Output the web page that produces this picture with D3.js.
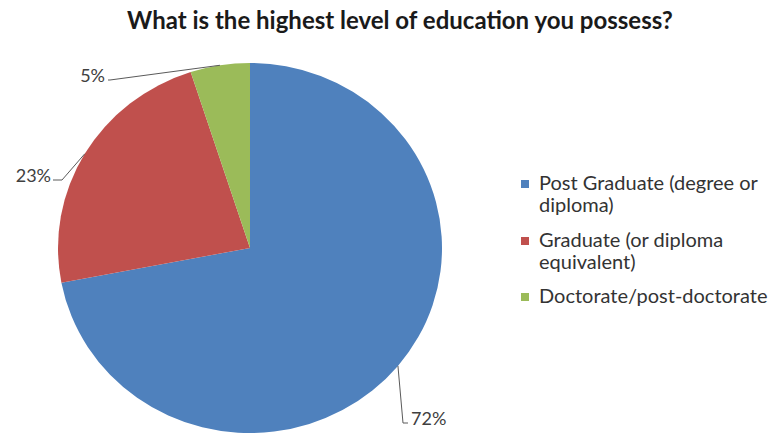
<!DOCTYPE html>
<html>
<head>
<meta charset="utf-8">
<script src="https://cdn.jsdelivr.net/npm/d3@7"></script>
<style>
  html, body { margin: 0; padding: 0; background: #fff; }
  svg { display: block; }
</style>
</head>
<body>
<svg id="chart" width="770" height="436"></svg>
<script>
// Survey answers: highest level of education
const categories = [
  "Post Graduate (degree or diploma)",
  "Graduate (or diploma equivalent)",
  "Doctorate/post-doctorate"
];
const values = [72, 23, 5];
const legendLines = [
  ["Post Graduate (degree or", "diploma)"],
  ["Graduate (or diploma", "equivalent)"],
  ["Doctorate/post-doctorate"]
];
const colors = ["#4F81BD", "#C0504D", "#9BBB59"];
const title = "What is the highest level of education you possess?";

const svg = d3.select("#chart");
const font = "Lato, 'Open Sans', sans-serif";

// Title
svg.append("text")
  .attr("x", 400)
  .attr("y", 29)
  .attr("text-anchor", "middle")
  .attr("font-family", font)
  .attr("font-weight", "bold")
  .attr("font-size", 24)
  .attr("fill", "#1a1a1a")
  .text(title);

// Pie geometry (plot area is slightly wider than tall)
const cx = 250, cy = 248, r = 185, sx = 192 / 185;

const color = d3.scaleOrdinal().domain(categories).range(colors);
const pie = d3.pie().sort(null).value(d => d.value);
const arcs = pie(categories.map((c, i) => ({ name: c, value: values[i] })));
const arc = d3.arc().innerRadius(0).outerRadius(r);

const g = svg.append("g")
  .attr("transform", `translate(${cx},${cy}) scale(${sx},1)`);

g.selectAll("path")
  .data(arcs)
  .join("path")
  .attr("d", arc)
  .attr("fill", d => color(d.data.name));

// Point on the rim at the middle angle of a slice, in page coordinates
function rimPoint(d) {
  const a = (d.startAngle + d.endAngle) / 2;
  return [cx + sx * r * Math.sin(a), cy - r * Math.cos(a)];
}

// Data labels with leader lines
const labelSpecs = [
  { anchor: "start", text: [411, 425], elbow: [403, 423], end: [408, 423] },
  { anchor: "end",   text: [51, 182],  elbow: [62, 180],  end: [53, 180] },
  { anchor: "end",   text: [105, 82],  elbow: [110, 80],  end: [108, 80] }
];

arcs.forEach((d, i) => {
  const s = labelSpecs[i];
  const p = rimPoint(d);
  svg.append("path")
    .attr("d", d3.line()([p, s.elbow, s.end]))
    .attr("fill", "none")
    .attr("stroke", "#5a5a5a")
    .attr("stroke-width", 1);
  svg.append("text")
    .attr("x", s.text[0])
    .attr("y", s.text[1])
    .attr("text-anchor", s.anchor)
    .attr("font-family", font)
    .attr("font-size", 18)
    .attr("fill", "#404040")
    .text(d3.format(".0f")(d.data.value) + "%");
});

// Legend
const legendTop = [190, 247, 303];
const legend = svg.append("g");
categories.forEach((c, i) => {
  legend.append("rect")
    .attr("x", 521)
    .attr("y", legendTop[i] - 10)
    .attr("width", 8)
    .attr("height", 8)
    .attr("fill", color(c));
  const t = legend.append("text")
    .attr("font-family", font)
    .attr("font-size", 20)
    .attr("fill", "#333");
  legendLines[i].forEach((line, j) => {
    t.append("tspan")
      .attr("x", 539)
      .attr("y", legendTop[i] + j * 22)
      .text(line);
  });
});
</script>
</body>
</html>
